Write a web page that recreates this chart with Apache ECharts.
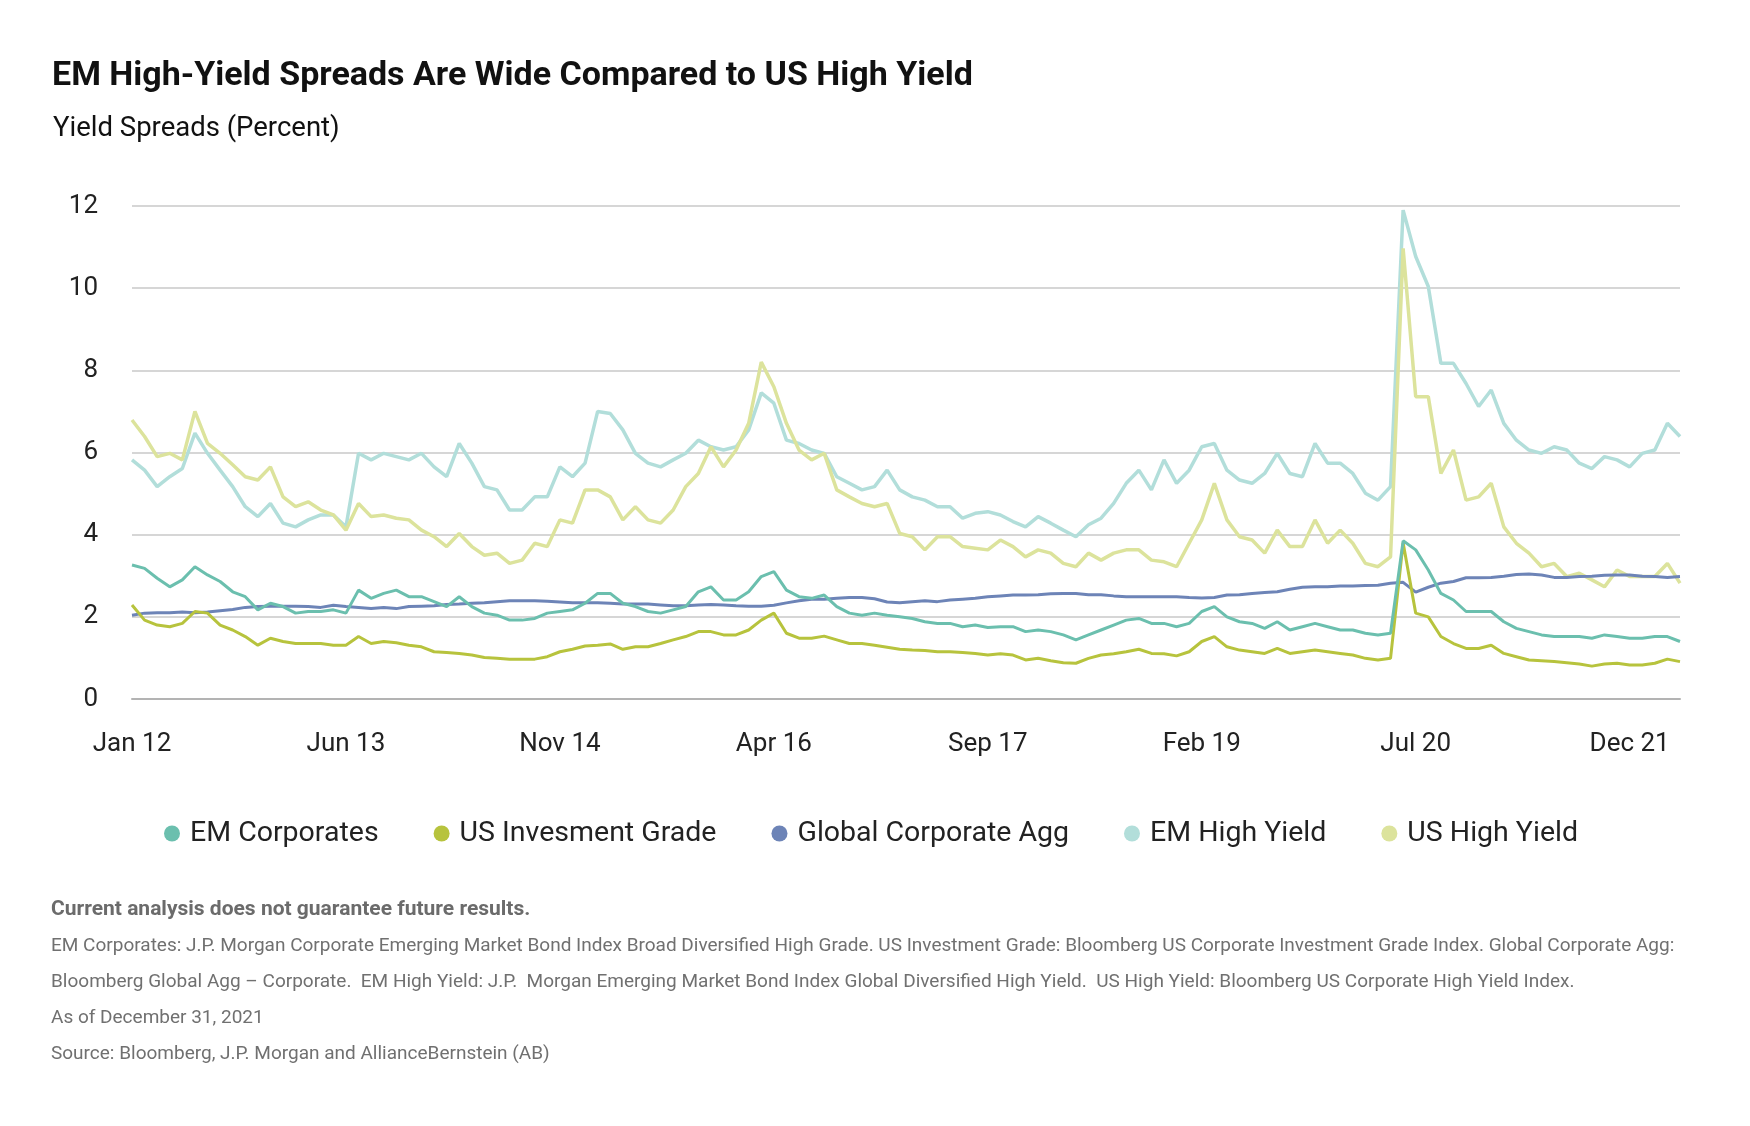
<!DOCTYPE html>
<html>
<head>
<meta charset="utf-8">
<title>EM High-Yield Spreads</title>
<script src="https://cdn.jsdelivr.net/npm/echarts@6/dist/echarts.min.js"></script>
<style>
  html, body { margin: 0; padding: 0; background: #fff; }
  #chart { width: 1750px; height: 1126px; }
</style>
</head>
<body>
<div id="chart"></div>
<script>
// monthly readings, Jan 2012 onwards (percent)
var monthNames = ["Jan","Feb","Mar","Apr","May","Jun","Jul","Aug","Sep","Oct","Nov","Dec"];

var emCorporates = [
  3.26,3.18,2.94,2.73,2.9,3.22,3.02,2.86,2.61,2.49,2.17,2.33,2.25,2.09,2.13,2.13,2.17,2.09,2.65,2.45,2.57,2.65,2.49,2.49,2.37,2.25,2.49,2.25,2.09,2.04,1.92,
  1.92,1.96,2.09,2.13,2.17,2.33,2.57,2.57,2.33,2.25,2.13,2.09,2.17,2.25,2.61,2.73,2.41,2.41,2.61,2.98,3.1,2.65,2.49,2.45,2.53,2.25,2.09,2.04,2.09,2.04,2.0,
  1.96,1.88,1.84,1.84,1.76,1.8,1.74,1.76,1.76,1.64,1.68,1.64,1.56,1.44,1.56,1.68,1.8,1.92,1.96,1.84,1.84,1.76,1.84,2.13,2.25,2.0,1.88,1.84,1.72,1.88,1.68,
  1.76,1.84,1.76,1.68,1.68,1.6,1.56,1.6,3.85,3.63,3.14,2.57,2.41,2.13,2.13,2.13,1.88,1.72,1.64,1.56,1.52,1.52,1.52,1.48,1.56,1.52,1.48,1.48,1.52,1.52,1.4
];
var usInvGrade = [
  2.29,1.92,1.8,1.76,1.84,2.13,2.09,1.8,1.68,1.52,1.31,1.48,1.4,1.35,1.35,1.35,1.31,1.31,1.52,1.35,1.4,1.37,1.31,1.27,1.15,1.13,1.11,1.07,1.01,0.99,0.97,
  0.97,0.97,1.03,1.15,1.21,1.29,1.31,1.34,1.21,1.27,1.27,1.35,1.44,1.52,1.64,1.64,1.56,1.56,1.68,1.92,2.09,1.6,1.48,1.48,1.53,1.44,1.35,1.35,1.31,1.26,1.21,
  1.19,1.18,1.15,1.15,1.13,1.11,1.07,1.1,1.07,0.95,0.99,0.93,0.88,0.87,0.99,1.07,1.1,1.15,1.21,1.11,1.1,1.05,1.15,1.4,1.52,1.27,1.19,1.15,1.11,1.23,1.11,
  1.15,1.19,1.15,1.11,1.07,0.99,0.95,0.99,3.8,2.09,2.0,1.52,1.35,1.23,1.23,1.31,1.11,1.03,0.95,0.93,0.91,0.88,0.85,0.8,0.85,0.87,0.83,0.83,0.87,0.97,0.91
];
var globalCorpAgg = [
  2.04,2.09,2.1,2.1,2.12,2.1,2.12,2.15,2.18,2.23,2.25,2.26,2.26,2.26,2.25,2.23,2.28,2.25,2.23,2.2,2.23,2.2,2.25,2.26,2.27,2.3,2.31,2.33,2.34,2.37,2.39,
  2.39,2.39,2.38,2.36,2.34,2.34,2.34,2.33,2.31,2.31,2.31,2.29,2.27,2.27,2.29,2.3,2.29,2.27,2.26,2.26,2.28,2.34,2.39,2.43,2.43,2.45,2.47,2.47,2.44,2.36,2.34,
  2.37,2.39,2.37,2.41,2.43,2.45,2.49,2.51,2.53,2.53,2.54,2.56,2.57,2.57,2.54,2.54,2.51,2.49,2.49,2.49,2.49,2.49,2.47,2.46,2.47,2.53,2.54,2.57,2.59,2.61,2.67,
  2.72,2.73,2.73,2.75,2.75,2.76,2.77,2.82,2.84,2.6,2.72,2.82,2.86,2.95,2.95,2.96,2.99,3.03,3.04,3.02,2.96,2.96,2.98,2.99,3.01,3.02,3.02,2.99,2.98,2.96,2.98
];
var emHighYield = [
  5.82,5.57,5.17,5.41,5.61,6.47,5.98,5.57,5.17,4.68,4.44,4.76,4.28,4.19,4.36,4.48,4.48,4.19,5.98,5.82,5.98,5.9,5.82,5.98,5.65,5.41,6.22,5.74,5.17,5.09,4.6,
  4.6,4.92,4.92,5.65,5.41,5.74,7.0,6.95,6.55,5.98,5.74,5.65,5.82,5.98,6.3,6.14,6.06,6.14,6.55,7.45,7.2,6.3,6.22,6.06,5.98,5.41,5.25,5.09,5.17,5.57,5.09,
  4.92,4.84,4.68,4.68,4.4,4.52,4.56,4.48,4.32,4.19,4.44,4.28,4.11,3.95,4.24,4.4,4.76,5.25,5.57,5.09,5.82,5.25,5.57,6.14,6.22,5.57,5.33,5.25,5.49,5.98,5.49,
  5.41,6.22,5.74,5.74,5.49,5.01,4.84,5.17,11.9,10.77,10.04,8.17,8.17,7.68,7.12,7.52,6.71,6.3,6.06,5.98,6.14,6.06,5.74,5.61,5.9,5.82,5.65,5.98,6.06,6.71,6.39
];
var usHighYield = [
  6.79,6.39,5.9,5.98,5.82,7.0,6.22,5.98,5.7,5.41,5.33,5.65,4.92,4.68,4.8,4.6,4.48,4.11,4.76,4.44,4.48,4.4,4.36,4.11,3.95,3.71,4.03,3.71,3.5,3.55,3.3,
  3.38,3.79,3.71,4.36,4.28,5.09,5.09,4.92,4.36,4.68,4.36,4.28,4.6,5.17,5.49,6.14,5.65,6.06,6.71,8.2,7.6,6.71,6.06,5.82,5.98,5.09,4.92,4.76,4.68,4.76,4.03,
  3.95,3.63,3.95,3.95,3.71,3.67,3.63,3.87,3.71,3.46,3.63,3.55,3.3,3.22,3.55,3.38,3.55,3.63,3.63,3.38,3.34,3.22,3.79,4.36,5.25,4.36,3.95,3.87,3.55,4.11,3.71,
  3.71,4.36,3.79,4.11,3.79,3.3,3.22,3.46,10.97,7.36,7.36,5.49,6.06,4.84,4.92,5.25,4.19,3.79,3.55,3.22,3.3,2.98,3.06,2.9,2.73,3.14,2.98,2.98,2.98,3.3,2.82
];

var months = [];
for (let i = 0; i < emCorporates.length; i++) {
  months.push(monthNames[i % 12] + " " + (12 + Math.floor(i / 12)));
}

var footLines = [
  "EM Corporates: J.P. Morgan Corporate Emerging Market Bond Index Broad Diversified High Grade. US Investment Grade: Bloomberg US Corporate Investment Grade Index. Global Corporate Agg:",
  "Bloomberg Global Agg \u2013 Corporate.  EM High Yield: J.P.  Morgan Emerging Market Bond Index Global Diversified High Yield.  US High Yield: Bloomberg US Corporate High Yield Index.",
  "As of December 31, 2021",
  "Source: Bloomberg, J.P. Morgan and AllianceBernstein (AB)"
];

var font = "Roboto, 'Noto Sans', sans-serif";
var chartDom = document.getElementById("chart");
var myChart = echarts.init(chartDom, null, { renderer: "canvas" });

var footer = [{
  type: "text", left: 51, top: 899,
  style: { text: "Current analysis does not guarantee future results.", font: "bold 21px " + font, fill: "#6b6b6b" }
}];
footLines.forEach(function (t, k) {
  footer.push({
    type: "text", left: 51, top: 937 + k * 36,
    style: { text: t, font: "19px " + font, fill: "#707070" }
  });
});

function line(name, data, color, width) {
  return {
    name: name,
    type: "line",
    data: data,
    showSymbol: false,
    lineStyle: { color: color, width: width },
    itemStyle: { color: color },
    emphasis: { disabled: true }
  };
}

var option = {
  animation: false,
  backgroundColor: "#fff",
  title: [
    {
      text: "EM High-Yield Spreads Are Wide Compared to US High Yield",
      left: 47, top: 54,
      textStyle: { fontFamily: font, fontSize: 34, fontWeight: "bold", color: "#111" }
    },
    {
      text: "Yield Spreads (Percent)",
      left: 48, top: 110,
      textStyle: { fontFamily: font, fontSize: 27.5, fontWeight: "normal", color: "#111" }
    }
  ],
  grid: { left: 132, right: 70, top: 206, bottom: 427 },
  legend: {
    data: ["EM Corporates", "US Invesment Grade", "Global Corporate Agg", "EM High Yield", "US High Yield"],
    left: 159, top: 814,
    icon: "circle",
    itemWidth: 16, itemHeight: 16,
    itemGap: 55,
    textStyle: { fontFamily: font, fontSize: 28.5, color: "#222", padding: [0, 0, 0, 5] }
  },
  xAxis: {
    type: "category",
    data: months,
    boundaryGap: false,
    axisLine: { show: true, lineStyle: { color: "#b3b3b3", width: 2 } },
    axisTick: { show: false },
    axisLabel: { interval: 16, margin: 32, fontFamily: font, fontSize: 26, color: "#222" },
    splitLine: { show: false }
  },
  yAxis: {
    type: "value",
    min: 0, max: 12, interval: 2,
    axisLine: { show: false },
    axisTick: { show: false },
    axisLabel: { margin: 34, fontFamily: font, fontSize: 26, color: "#222" },
    splitLine: { lineStyle: { color: "#c8c8c8", width: 1.5 } }
  },
  series: [
    line("EM High Yield", emHighYield, "#b2deda", 3.5),
    line("US High Yield", usHighYield, "#dce39c", 3.5),
    line("Global Corporate Agg", globalCorpAgg, "#6d84b7", 3),
    line("US Invesment Grade", usInvGrade, "#b7c33d", 3),
    line("EM Corporates", emCorporates, "#6bbfae", 3)
  ],
  graphic: footer
};

option && myChart.setOption(option);
window.addEventListener("resize", myChart.resize);
</script>
</body>
</html>
